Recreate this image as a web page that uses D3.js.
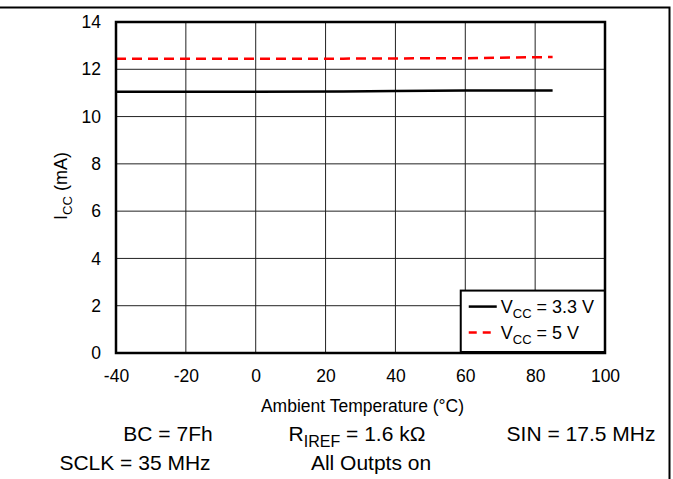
<!DOCTYPE html>
<html>
<head>
<meta charset="utf-8">
<script src="https://cdn.jsdelivr.net/npm/d3@7"></script>
<style>
  body { margin: 0; background: #fff; }
  svg text { font-family: "Liberation Sans", Arial, sans-serif; fill: #000; }
</style>
</head>
<body>
<div id="chart"></div>
<script>
// data
const temps = [-40, -20, 0, 25, 40, 60, 85];
const icc33 = [11.05, 11.05, 11.05, 11.06, 11.08, 11.1, 11.1];
const icc5 = [12.45, 12.45, 12.45, 12.45, 12.46, 12.47, 12.52];
const xTicks = [-40, -20, 0, 20, 40, 60, 80, 100];
const yTicks = [0, 2, 4, 6, 8, 10, 12, 14];

const W = 673, H = 479;
const margin = {top: 22, right: 68, bottom: 126, left: 116};
const width = W - margin.left - margin.right,
    height = H - margin.top - margin.bottom;

const svg = d3.select("#chart").append("svg")
    .attr("width", W).attr("height", H);

// outer frame (top and right edge)
svg.append("path")
    .attr("d", `M0,7.5H669.5V${H}`)
    .attr("fill", "none").attr("stroke", "#000").attr("stroke-width", 2);

const g = svg.append("g").attr("transform", `translate(${margin.left},${margin.top})`);

const x = d3.scaleLinear().domain([-40, 100]).range([0, width]);
const y = d3.scaleLinear().domain([0, 14]).range([height, 0]);

// grid
g.append("g").selectAll("line").data(xTicks).enter().append("line")
    .attr("x1", d => x(d)).attr("x2", d => x(d))
    .attr("y1", 0).attr("y2", height)
    .attr("stroke", "#222").attr("stroke-width", 1);
g.append("g").selectAll("line").data(yTicks).enter().append("line")
    .attr("x1", 0).attr("x2", width)
    .attr("y1", d => y(d)).attr("y2", d => y(d))
    .attr("stroke", "#222").attr("stroke-width", 1);

// axes, labels only
const xAxis = g.append("g").attr("transform", `translate(0,${height})`)
    .call(d3.axisBottom(x).tickValues(xTicks).tickFormat(d => String(d)).tickSize(0).tickPadding(17));
xAxis.select(".domain").remove();
xAxis.selectAll("text").style("font-size", "17.5px");

const yAxis = g.append("g")
    .call(d3.axisLeft(y).tickValues(yTicks).tickFormat(d => String(d)).tickSize(0).tickPadding(15));
yAxis.select(".domain").remove();
yAxis.selectAll("text").style("font-size", "17.5px");

// lines
const line = d3.line().x(d => x(d[0])).y(d => y(d[1]));
g.append("path").datum(temps.map((t, i) => [t, icc33[i]]))
    .attr("d", line).attr("fill", "none")
    .attr("stroke", "#000").attr("stroke-width", 2.5);
g.append("path").datum(temps.map((t, i) => [t, icc5[i]]))
    .attr("d", line).attr("fill", "none")
    .attr("stroke", "#ff0000").attr("stroke-width", 2.5)
    .attr("stroke-dasharray", "10,6");

// legend
const legX = x(58.7), legY = y(2.64);
const leg = g.append("g").attr("transform", `translate(${legX},${legY})`);
const legW = width - legX, legH = height - legY - 1;
leg.append("rect").attr("width", legW).attr("height", legH)
    .attr("fill", "#fff").attr("stroke", "#000").attr("stroke-width", 2);
const legItems = [["#000", null, "3.3 V"], ["#ff0000", "8,6", "5 V"]];
legItems.forEach((it, i) => {
    const ly = 16 + i * 26;
    leg.append("line").attr("x1", 8).attr("x2", 36).attr("y1", ly).attr("y2", ly)
        .attr("stroke", it[0]).attr("stroke-width", 2.5)
        .attr("stroke-dasharray", it[1]);
    const t = leg.append("text").attr("x", 40).attr("y", ly + 6).style("font-size", "18px");
    t.append("tspan").text("V");
    t.append("tspan").attr("dy", 5).style("font-size", "13px").text("CC");
    t.append("tspan").attr("dy", -5).text(" = " + it[2]);
});

// y title
const yt = svg.append("text")
    .attr("transform", "translate(67,186) rotate(-90)")
    .attr("text-anchor", "middle").style("font-size", "18px");
yt.append("tspan").text("I");
yt.append("tspan").attr("dy", 5).style("font-size", "13px").text("CC");
yt.append("tspan").attr("dy", -5).text(" (mA)");

// x title
svg.append("text").attr("x", margin.left + width / 2 + 2).attr("y", 412)
    .attr("text-anchor", "middle").style("font-size", "17.5px")
    .text("Ambient Temperature (°C)");

// conditions
const cond = svg.append("g").style("font-size", "21px");
cond.append("text").attr("x", 168).attr("y", 441).attr("text-anchor", "middle").text("BC = 7Fh");
const r = cond.append("text").attr("x", 357).attr("y", 441).attr("text-anchor", "middle");
r.append("tspan").text("R");
r.append("tspan").attr("dy", 6).style("font-size", "16px").text("IREF");
r.append("tspan").attr("dy", -6).text(" = 1.6 kΩ");
cond.append("text").attr("x", 581).attr("y", 441).attr("text-anchor", "middle").text("SIN = 17.5 MHz");
cond.append("text").attr("x", 135).attr("y", 470).attr("text-anchor", "middle").text("SCLK = 35 MHz");
cond.append("text").attr("x", 371).attr("y", 470).attr("text-anchor", "middle").text("All Outpts on");

// plot border on top
g.append("rect").attr("width", width).attr("height", height)
    .attr("fill", "none").attr("stroke", "#000").attr("stroke-width", 2.5);
</script>
</body>
</html>
